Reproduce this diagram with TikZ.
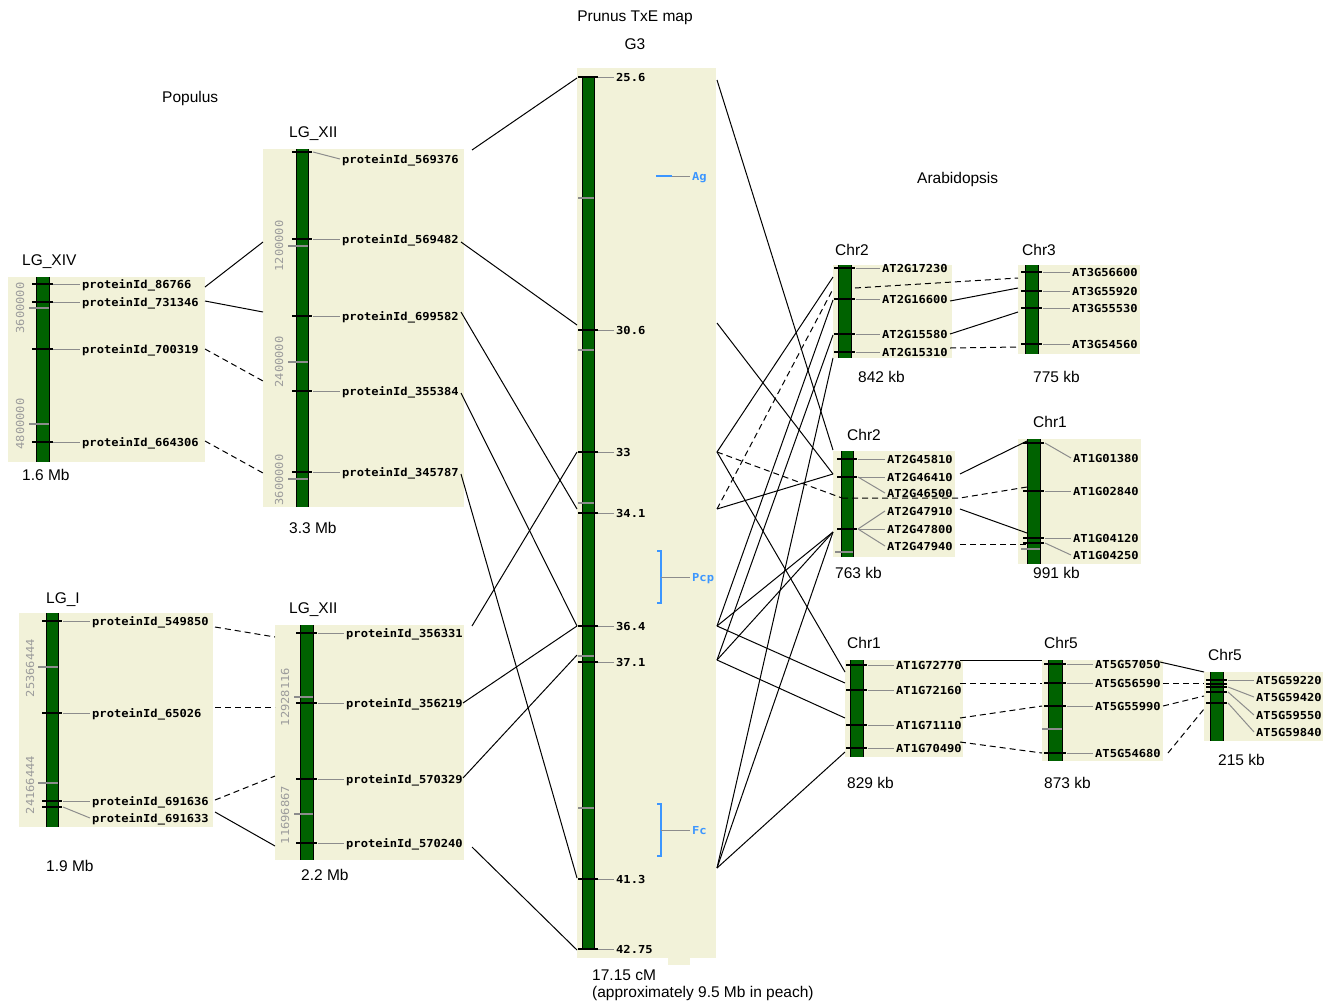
\documentclass[tikz,border=0pt]{standalone}
\usepackage{fontspec}
\setmainfont{Liberation Sans}
\newfontfamily\pixfont[FakeStretch=1.1]{DejaVu Sans Mono}
\definecolor{panelbg}{RGB}{242,242,217}
\definecolor{chrgreen}{RGB}{0,98,0}
\definecolor{lgray}{RGB}{140,140,140}
\definecolor{axgray}{RGB}{155,155,155}
\definecolor{mblue}{RGB}{60,150,255}
\tikzset{
  panel/.style={fill=panelbg, draw=none},
  ttl/.style={font=\fontsize{15.5}{15.5}\selectfont, inner sep=0pt, anchor=base west},
  ttlc/.style={font=\fontsize{15.5}{15.5}\selectfont, inner sep=0pt, anchor=base},
  mk/.style={font=\pixfont\bfseries\fontsize{11}{11}\selectfont, inner sep=0pt, anchor=base west},
  ax/.style={font=\pixfont\fontsize{11}{11}\selectfont, text=axgray, inner sep=0pt, rotate=90, anchor=center},
  lline/.style={draw=lgray, line width=1pt},
  tk/.style={draw=black, line width=1.2pt},
  gtk/.style={draw=lgray, line width=1.2pt},
  conn/.style={draw=black, line width=1pt},
  dconn/.style={conn, dash pattern=on 6pt off 4pt},
  bluem/.style={draw=mblue, line width=1.2pt},
}
\newcommand{\chrbar}[4]{\fill[chrgreen] (#1,#3) rectangle (#2,#4); \draw[line width=1pt] (#1,#3) -- (#1,#4) (#2,#3) -- (#2,#4);}
\newcommand{\btick}[3]{\draw[tk] (#1-4,#3) -- (#2+4,#3);}
\newcommand{\gtick}[3]{\draw[gtk] (#1,#3) -- (#2,#3);}
\newcommand{\mlab}[6]{\draw[lline] (#2,#3) -- (#4-2,#5); \node[mk] (#1) at (#4,#5+4) {#6};}
\newcommand{\cn}[3]{\coordinate (#1) at (#2,#3);}
\begin{document}
\begin{tikzpicture}[x=1pt,y=-1pt]
\useasboundingbox (0,0) rectangle (1331,1005);
\fill[white] (0,0) rectangle (1331,1005);

% ---------- titles ----------
\node[ttlc] (ttlprunus) at (635,21) {Prunus TxE map};
\node[ttlc] (ttlg3) at (635,49) {G3};
\node[ttl] (ttlpop) at (162,102) {Populus};
\node[ttl] (ttlara) at (917,183) {Arabidopsis};

% ---------- panels ----------
\fill[panel] (8,277) rectangle (205,462);
\fill[panel] (263,149) rectangle (464,507);
\fill[panel] (19,613) rectangle (213,827);
\fill[panel] (275,625) rectangle (464,860);
\fill[panel] (577,68) rectangle (716,958);
\fill[panel] (668,958) rectangle (690,965);
\fill[panel] (833,265) rectangle (952,358);
\fill[panel] (1018,265) rectangle (1140,354);
\fill[panel] (833,451) rectangle (955,557);
\fill[panel] (1018,439) rectangle (1141,564);
\fill[panel] (845,660) rectangle (963,757);
\fill[panel] (1042,660) rectangle (1163,761);
\fill[panel] (1204,672) rectangle (1323,741);

% ---------- LG_XIV ----------
\node[ttl] (tlgxiv) at (22,265) {LG\_XIV};
\node[ttl] (slgxiv) at (22,480) {1.6 Mb};
\chrbar{36}{49}{277}{462}
\gtick{29}{49}{308} \gtick{29}{49}{424}
\node[ax] (axa1) at (20,308) {3600000};
\node[ax] (axa2) at (20,424) {4800000};
\btick{36}{49}{284} \btick{36}{49}{302} \btick{36}{49}{349} \btick{36}{49}{442}
\mlab{pA1}{53}{284}{82}{284}{proteinId\_86766}
\mlab{pA2}{53}{302}{82}{302}{proteinId\_731346}
\mlab{pA3}{53}{349}{82}{349}{proteinId\_700319}
\mlab{pA4}{53}{442}{82}{442}{proteinId\_664306}

% ---------- LG_XII top ----------
\node[ttl] (tlgxiia) at (289,137) {LG\_XII};
\node[ttl] (slgxiia) at (289,533) {3.3 Mb};
\chrbar{296}{308}{149}{507}
\gtick{288}{308}{246} \gtick{288}{308}{362} \gtick{288}{308}{479}
\node[ax] (axb1) at (279,246) {1200000};
\node[ax] (axb2) at (279,362) {2400000};
\node[ax] (axb3) at (279,480) {3600000};
\btick{296}{308}{152} \btick{296}{308}{239} \btick{296}{308}{316} \btick{296}{308}{391} \btick{296}{308}{472}
\mlab{pB1}{313}{152}{342}{159}{proteinId\_569376}
\mlab{pB2}{313}{239}{342}{239}{proteinId\_569482}
\mlab{pB3}{313}{316}{342}{316}{proteinId\_699582}
\mlab{pB4}{313}{391}{342}{391}{proteinId\_355384}
\mlab{pB5}{313}{472}{342}{472}{proteinId\_345787}

% ---------- LG_I ----------
\node[ttl] (tlgi) at (46,603) {LG\_I};
\node[ttl] (slgi) at (46,871) {1.9 Mb};
\chrbar{46}{58}{613}{827}
\gtick{38}{58}{667} \gtick{38}{58}{783}
\node[ax] (axc1) at (30,668) {25366444};
\node[ax] (axc2) at (30,785) {24166444};
\btick{46}{58}{621} \btick{46}{58}{713} \btick{46}{58}{801} \btick{46}{58}{807}
\mlab{pC1}{63}{621}{92}{621}{proteinId\_549850}
\mlab{pC2}{63}{713}{92}{713}{proteinId\_65026}
\mlab{pC3}{63}{801}{92}{801}{proteinId\_691636}
\mlab{pC4}{63}{807}{92}{818}{proteinId\_691633}

% ---------- LG_XII bottom ----------
\node[ttl] (tlgxiib) at (289,613) {LG\_XII};
\node[ttl] (slgxiib) at (301,880) {2.2 Mb};
\chrbar{300}{313}{625}{860}
\gtick{294}{313}{697} \gtick{294}{313}{814}
\node[ax] (axd1) at (285,697) {12928116};
\node[ax] (axd2) at (285,815) {11696867};
\btick{300}{313}{633} \btick{300}{313}{703} \btick{300}{313}{779} \btick{300}{313}{843}
\mlab{pD1}{318}{633}{346}{633}{proteinId\_356331}
\mlab{pD2}{318}{703}{346}{703}{proteinId\_356219}
\mlab{pD3}{318}{779}{346}{779}{proteinId\_570329}
\mlab{pD4}{318}{843}{346}{843}{proteinId\_570240}

% ---------- G3 ----------
\node[ttl] (g3len) at (592,980) {17.15 cM};
\node[ttl] (g3len2) at (592,997) {(approximately 9.5 Mb in peach)};
\chrbar{582}{594}{77}{949}
\gtick{578}{594}{198} \gtick{578}{594}{350} \gtick{578}{594}{503} \gtick{578}{594}{656} \gtick{578}{594}{808}
\btick{582}{594}{77} \btick{582}{594}{330} \btick{582}{594}{452} \btick{582}{594}{513}
\btick{582}{594}{626} \btick{582}{594}{662} \btick{582}{594}{879} \btick{582}{594}{949}
\mlab{g256}{598}{77}{616}{77}{25.6}
\mlab{g306}{598}{330}{616}{330}{30.6}
\mlab{g33}{598}{452}{616}{452}{33}
\mlab{g341}{598}{513}{616}{513}{34.1}
\mlab{g364}{598}{626}{616}{626}{36.4}
\mlab{g371}{598}{662}{616}{662}{37.1}
\mlab{g413}{598}{879}{616}{879}{41.3}
\mlab{g4275}{598}{949}{616}{949}{42.75}
% QTL markers
\draw[bluem] (656,176) -- (672,176);
\draw[lline] (672,176) -- (690,176);
\node[mk, text=mblue] (qag) at (692,180) {Ag};
\draw[bluem] (657,551) -- (661,551) -- (661,603) -- (657,603);
\draw[lline] (661,577) -- (690,577);
\node[mk, text=mblue] (qpcp) at (692,581) {Pcp};
\draw[bluem] (657,804) -- (661,804) -- (661,856) -- (657,856);
\draw[lline] (661,830) -- (690,830);
\node[mk, text=mblue] (qfc) at (692,834) {Fc};

% ---------- Chr2 (a) ----------
\node[ttl] (tc2a) at (835,255) {Chr2};
\node[ttl] (sc2a) at (858,382) {842 kb};
\chrbar{838}{851}{265}{358}
\btick{838}{851}{268} \btick{838}{851}{299} \btick{838}{851}{334} \btick{838}{851}{352}
\mlab{a1}{856}{268}{882}{268}{AT2G17230}
\mlab{a2}{856}{299}{882}{299}{AT2G16600}
\mlab{a3}{856}{334}{882}{334}{AT2G15580}
\mlab{a4}{856}{352}{882}{352}{AT2G15310}

% ---------- Chr3 ----------
\node[ttl] (tc3) at (1022,255) {Chr3};
\node[ttl] (sc3) at (1033,382) {775 kb};
\chrbar{1025}{1038}{265}{354}
\btick{1025}{1038}{272} \btick{1025}{1038}{291} \btick{1025}{1038}{308} \btick{1025}{1038}{344}
\mlab{b1}{1043}{272}{1072}{272}{AT3G56600}
\mlab{b2}{1043}{291}{1072}{291}{AT3G55920}
\mlab{b3}{1043}{308}{1072}{308}{AT3G55530}
\mlab{b4}{1043}{344}{1072}{344}{AT3G54560}

% ---------- Chr2 (b) ----------
\node[ttl] (tc2b) at (847,440) {Chr2};
\node[ttl] (sc2b) at (835,578) {763 kb};
\chrbar{841}{853}{451}{557}
\gtick{835}{853}{552}
\btick{841}{853}{459} \btick{841}{853}{477} \btick{841}{853}{529}
\mlab{c1}{858}{459}{887}{459}{AT2G45810}
\mlab{c2}{858}{477}{887}{477}{AT2G46410}
\mlab{c3}{858}{477}{887}{493}{AT2G46500}
\mlab{c4}{858}{529}{887}{511}{AT2G47910}
\mlab{c5}{858}{529}{887}{529}{AT2G47800}
\mlab{c6}{858}{529}{887}{546}{AT2G47940}

% ---------- Chr1 (b) ----------
\node[ttl] (tc1b) at (1033,427) {Chr1};
\node[ttl] (sc1b) at (1033,578) {991 kb};
\chrbar{1027}{1040}{439}{564}
\gtick{1021}{1040}{549}
\btick{1027}{1040}{443} \btick{1027}{1040}{491} \btick{1027}{1040}{538} \btick{1027}{1040}{543}
\mlab{d1}{1045}{443}{1073}{458}{AT1G01380}
\mlab{d2}{1045}{491}{1073}{491}{AT1G02840}
\mlab{d3}{1045}{538}{1073}{538}{AT1G04120}
\mlab{d4}{1045}{543}{1073}{555}{AT1G04250}

% ---------- Chr1 (c) ----------
\node[ttl] (tc1c) at (847,648) {Chr1};
\node[ttl] (sc1c) at (847,788) {829 kb};
\chrbar{850}{863}{660}{757}
\btick{850}{863}{665} \btick{850}{863}{690} \btick{850}{863}{725} \btick{850}{863}{748}
\mlab{e1}{868}{665}{896}{665}{AT1G72770}
\mlab{e2}{868}{690}{896}{690}{AT1G72160}
\mlab{e3}{868}{725}{896}{725}{AT1G71110}
\mlab{e4}{868}{748}{896}{748}{AT1G70490}

% ---------- Chr5 (a) ----------
\node[ttl] (tc5a) at (1044,648) {Chr5};
\node[ttl] (sc5a) at (1044,788) {873 kb};
\chrbar{1048}{1062}{660}{761}
\gtick{1042}{1062}{729}
\btick{1048}{1062}{664} \btick{1048}{1062}{683} \btick{1048}{1062}{706} \btick{1048}{1062}{753}
\mlab{f1}{1067}{664}{1095}{664}{AT5G57050}
\mlab{f2}{1067}{683}{1095}{683}{AT5G56590}
\mlab{f3}{1067}{706}{1095}{706}{AT5G55990}
\mlab{f4}{1067}{753}{1095}{753}{AT5G54680}

% ---------- Chr5 (b) ----------
\node[ttl] (tc5b) at (1208,660) {Chr5};
\node[ttl] (sc5b) at (1218,765) {215 kb};
\chrbar{1210}{1223}{672}{741}
\btick{1210}{1223}{680} \btick{1210}{1223}{684} \btick{1210}{1223}{687} \btick{1210}{1223}{692} \btick{1210}{1223}{703}
\mlab{h1}{1228}{680}{1256}{680}{AT5G59220}
\mlab{h2}{1228}{687}{1256}{697}{AT5G59420}
\mlab{h3}{1228}{692}{1256}{715}{AT5G59550}
\mlab{h4}{1228}{703}{1256}{732}{AT5G59840}

% ---------- connector end points ----------
\cn{xa1}{205}{287} \cn{xa2}{205}{301} \cn{xa3}{205}{349} \cn{xa4}{205}{441}
\cn{ta1}{263}{242} \cn{ta2}{263}{312} \cn{ta3}{263}{381} \cn{ta4}{263}{473}
\cn{tb1}{472}{150} \cn{tb2}{461}{242} \cn{tb3}{461}{312} \cn{tb4}{461}{393} \cn{tb5}{461}{474}
\cn{ia1}{215}{627} \cn{ia2}{215}{707} \cn{ia3}{215}{800} \cn{ia4}{215}{812}
\cn{ba1}{275}{637} \cn{ba2}{275}{707} \cn{ba3}{275}{776} \cn{ba4}{275}{846}
\cn{bb1}{472}{626} \cn{bb2}{463}{703} \cn{bb3}{463}{778} \cn{bb4}{472}{847}
\cn{gl256}{577}{78} \cn{gl306}{577}{325} \cn{gl33}{577}{452} \cn{gl341}{577}{509}
\cn{gl364}{577}{626} \cn{gl371}{577}{655} \cn{gl413}{577}{878} \cn{gl4275}{577}{950}
\cn{gr256}{717}{80} \cn{gr306}{717}{323} \cn{gr33}{717}{452} \cn{gr341}{717}{509}
\cn{gr364}{717}{626} \cn{gr371}{717}{660} \cn{gr413}{717}{868}
\cn{ca1}{833}{277} \cn{ca2}{833}{289} \cn{ca3}{833}{300} \cn{ca4}{833}{335} \cn{ca5}{833}{358}
\cn{cb1}{833}{450} \cn{cb2}{833}{474} \cn{cb3}{842}{498} \cn{cb4}{833}{532}
\cn{cc1}{845}{672} \cn{cc2}{845}{683} \cn{cc3}{845}{718} \cn{cc4}{845}{752}
\cn{a2r1}{855}{288} \cn{a2r2}{950}{301} \cn{a2r3}{950}{334} \cn{a2r4}{950}{348}
\cn{c3l1}{1018}{278} \cn{c3l2}{1018}{288} \cn{c3l3}{1018}{312} \cn{c3l4}{1018}{347}
\cn{b2r0}{960}{498} \cn{b2r1}{960}{474} \cn{b2r2}{960}{509} \cn{b2r3}{960}{544}
\cn{c1bl1}{1027}{441} \cn{c1bl2}{1027}{487} \cn{c1bl3}{1027}{533} \cn{c1bl4}{1027}{544}
\cn{c1r1}{960}{660} \cn{c1r2}{960}{683} \cn{c1r3}{960}{718} \cn{c1r4}{960}{742}
\cn{c5l1}{1042}{660} \cn{c5l2}{1042}{683} \cn{c5l3}{1042}{706} \cn{c5l4}{1042}{753}
\cn{c5r1}{1160}{662} \cn{c5r2}{1163}{683} \cn{c5r3}{1163}{706} \cn{c5r4}{1168}{753}
\cn{c5bl1}{1204}{672} \cn{c5bl2}{1204}{683} \cn{c5bl3}{1204}{696} \cn{c5bl4}{1204}{709}

% ---------- connectors: Populus ----------
\draw[conn] (xa1) -- (ta1);
\draw[conn] (xa2) -- (ta2);
\draw[dconn] (xa3) -- (ta3);
\draw[dconn] (xa4) -- (ta4);
\draw[dconn] (ia1) -- (ba1);
\draw[dconn] (ia2) -- (ba2);
\draw[dconn] (ia3) -- (ba3);
\draw[conn] (ia4) -- (ba4);
% Populus -> G3
\draw[conn] (tb1) -- (gl256);
\draw[conn] (tb2) -- (gl306);
\draw[conn] (tb3) -- (gl341);
\draw[conn] (tb4) -- (gl364);
\draw[conn] (tb5) -- (gl413);
\draw[conn] (bb1) -- (gl33);
\draw[conn] (bb2) -- (gl364);
\draw[conn] (bb3) -- (gl371);
\draw[conn] (bb4) -- (gl4275);
% G3 -> Arabidopsis
\draw[conn] (gr256) -- (cb1);
\draw[conn] (gr306) -- (cb2);
\draw[conn] (gr33) -- (ca1);
\draw[dconn] (gr33) -- (cb3);
\draw[conn] (gr33) -- (cc1);
\draw[dconn] (gr341) -- (ca2);
\draw[conn] (gr341) -- (cb2);
\draw[conn] (gr364) -- (ca3);
\draw[conn] (gr364) -- (cb4);
\draw[conn] (gr364) -- (cc2);
\draw[conn] (gr371) -- (ca4);
\draw[conn] (gr371) -- (cb4);
\draw[conn] (gr371) -- (cc3);
\draw[conn] (gr413) -- (ca5);
\draw[conn] (gr413) -- (cb4);
\draw[conn] (gr413) -- (cc4);
% Arabidopsis internal
\draw[dconn] (a2r1) -- (c3l1);
\draw[conn] (a2r2) -- (c3l2);
\draw[conn] (a2r3) -- (c3l3);
\draw[dconn] (a2r4) -- (c3l4);
\draw[dconn] (cb3) -- (b2r0) -- (c1bl2);
\draw[conn] (b2r1) -- (c1bl1);
\draw[conn] (b2r2) -- (c1bl3);
\draw[dconn] (b2r3) -- (c1bl4);
\draw[conn] (c1r1) -- (c5l1);
\draw[dconn] (c1r2) -- (c5l2);
\draw[dconn] (c1r3) -- (c5l3);
\draw[dconn] (c1r4) -- (c5l4);
\draw[conn] (c5r1) -- (c5bl1);
\draw[dconn] (c5r2) -- (c5bl2);
\draw[dconn] (c5r3) -- (c5bl3);
\draw[dconn] (c5r4) -- (c5bl4);
\end{tikzpicture}
\end{document}
